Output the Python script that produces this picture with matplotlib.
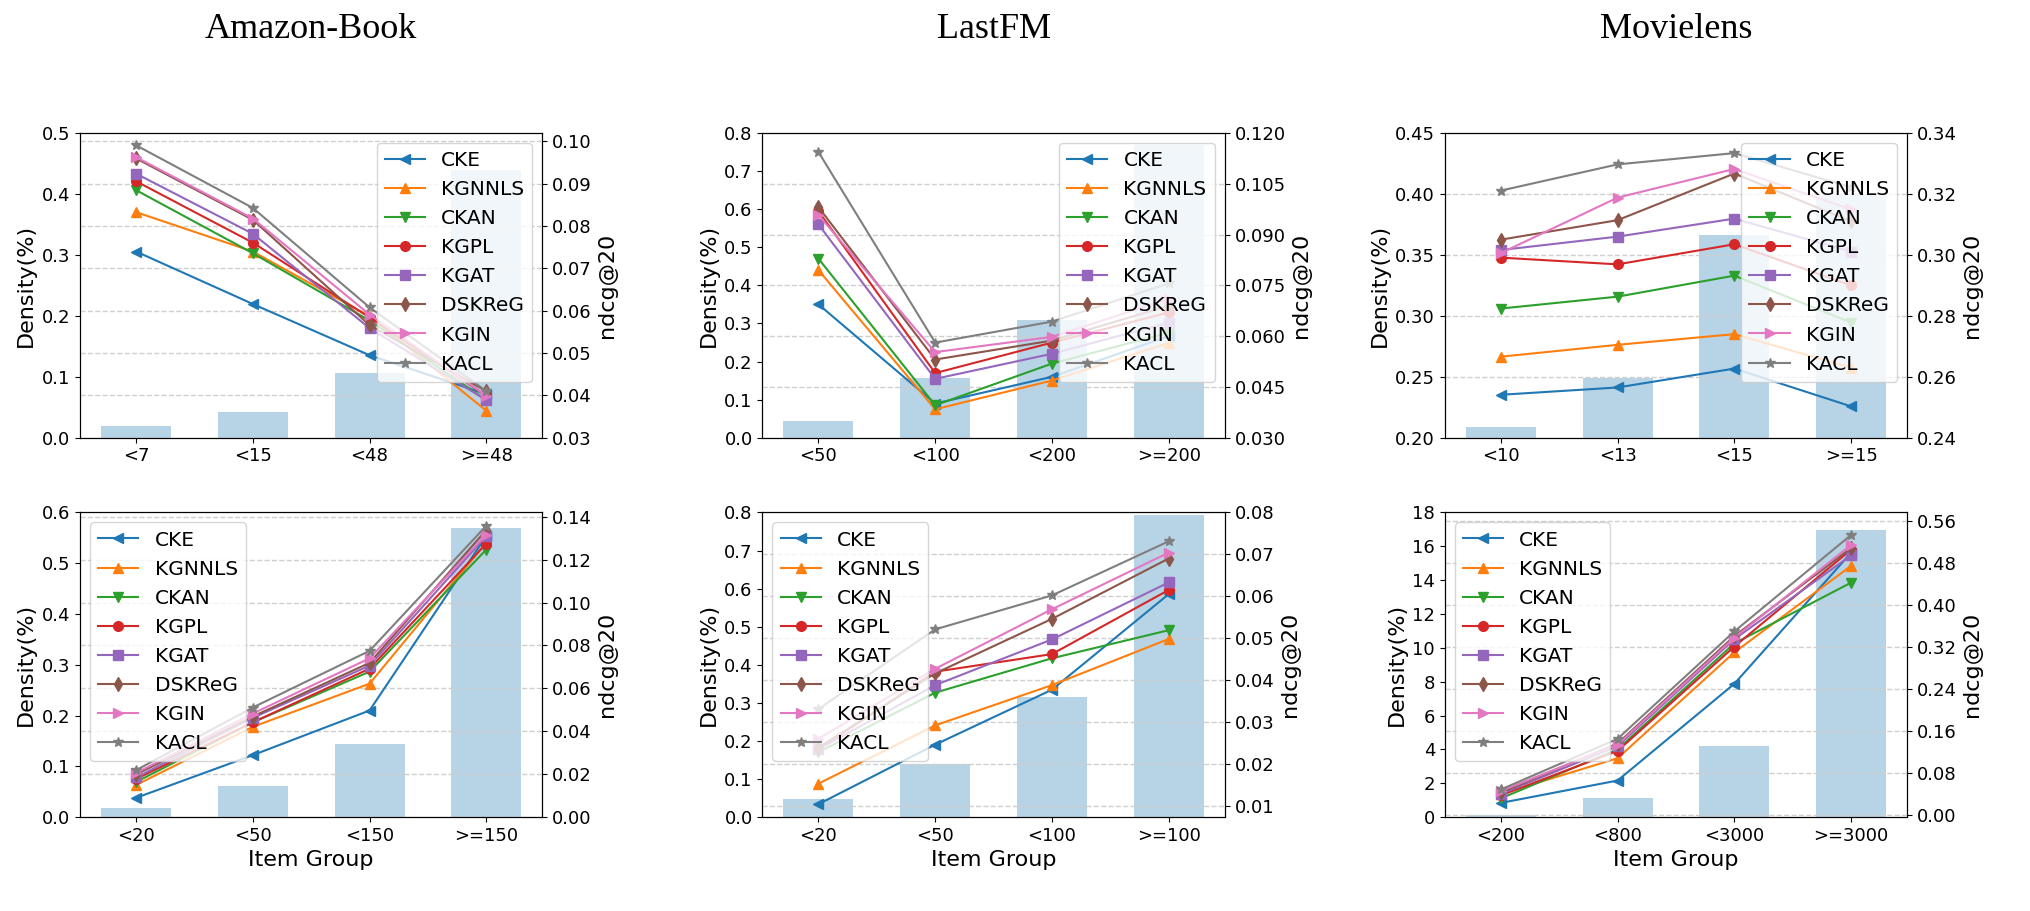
import numpy as np
import matplotlib
matplotlib.use('Agg')
import matplotlib.pyplot as plt
from matplotlib.ticker import FormatStrFormatter

# Data
methods = ['CKE', 'KGNNLS', 'CKAN', 'KGPL', 'KGAT', 'DSKReG', 'KGIN', 'KACL']
markers = ['<', '^', 'v', 'o', 's', 'd', '>', '*']
colors = ['tab:blue', 'tab:orange', 'tab:green', 'tab:red',
          'tab:purple', 'tab:brown', 'tab:pink', 'tab:gray']

datasets = ['Amazon-Book', 'LastFM', 'Movielens']

# top row: user groups
amazon_top_groups = ['<7', '<15', '<48', '>=48']
amazon_top_density = [0.020, 0.042, 0.107, 0.44]
amazon_top_ndcg = [
    [0.0740, 0.0616, 0.0495, 0.0403],
    [0.0833, 0.0740, 0.0587, 0.0364],
    [0.0885, 0.0736, 0.0577, 0.0389],
    [0.0906, 0.0761, 0.0584, 0.0399],
    [0.0924, 0.0782, 0.0559, 0.0389],
    [0.0960, 0.0815, 0.0566, 0.0410],
    [0.0963, 0.0818, 0.0591, 0.0399],
    [0.0991, 0.0843, 0.0608, 0.0410],
]

lastfm_top_groups = ['<50', '<100', '<200', '>=200']
lastfm_top_density = [0.045, 0.158, 0.310, 0.768]
lastfm_top_ndcg = [
    [0.0694, 0.0401, 0.0480, 0.0600],
    [0.0795, 0.0384, 0.0469, 0.0580],
    [0.0829, 0.0396, 0.0519, 0.0610],
    [0.0969, 0.0491, 0.0581, 0.0670],
    [0.0930, 0.0474, 0.0548, 0.0640],
    [0.0981, 0.0531, 0.0587, 0.0690],
    [0.0958, 0.0553, 0.0598, 0.0710],
    [0.1144, 0.0581, 0.0643, 0.0756],
]

movielens_top_groups = ['<10', '<13', '<15', '>=15']
movielens_top_density = [0.209, 0.249, 0.366, 0.400]
movielens_top_ndcg = [
    [0.2541, 0.2565, 0.2627, 0.2503],
    [0.2666, 0.2705, 0.2740, 0.2630],
    [0.2824, 0.2863, 0.2932, 0.2778],
    [0.2991, 0.2969, 0.3035, 0.2900],
    [0.3016, 0.3060, 0.3119, 0.3011],
    [0.3050, 0.3114, 0.3267, 0.3110],
    [0.3006, 0.3188, 0.3282, 0.3149],
    [0.3211, 0.3297, 0.3334, 0.3222],
]

# bottom row: item groups
amazon_bot_groups = ['<20', '<50', '<150', '>=150']
amazon_bot_density = [0.019, 0.062, 0.144, 0.569]
amazon_bot_ndcg = [
    [0.0090, 0.0289, 0.0497, 0.1310],
    [0.0150, 0.0421, 0.0622, 0.1280],
    [0.0164, 0.0442, 0.0678, 0.1247],
    [0.0178, 0.0442, 0.0692, 0.1275],
    [0.0185, 0.0463, 0.0706, 0.1310],
    [0.0199, 0.0469, 0.0719, 0.1338],
    [0.0206, 0.0483, 0.0740, 0.1317],
    [0.0219, 0.0511, 0.0775, 0.1358],
]

lastfm_bot_groups = ['<20', '<50', '<100', '>=100']
lastfm_bot_density = [0.049, 0.139, 0.315, 0.792]
lastfm_bot_ndcg = [
    [0.0104, 0.0246, 0.0377, 0.0605],
    [0.0153, 0.0292, 0.0388, 0.0498],
    [0.0228, 0.0370, 0.0452, 0.0519],
    [0.0235, 0.0420, 0.0462, 0.0615],
    [0.0235, 0.0388, 0.0497, 0.0633],
    [0.0239, 0.0416, 0.0546, 0.0690],
    [0.0260, 0.0427, 0.0569, 0.0704],
    [0.0331, 0.0521, 0.0602, 0.0731],
]

movielens_bot_groups = ['<200', '<800', '<3000', '>=3000']
movielens_bot_density = [0.10, 1.11, 4.22, 16.94]
movielens_bot_ndcg = [
    [0.0227, 0.0654, 0.250, 0.500],
    [0.0398, 0.108, 0.310, 0.475],
    [0.0313, 0.125, 0.327, 0.443],
    [0.0370, 0.122, 0.321, 0.506],
    [0.0398, 0.131, 0.335, 0.495],
    [0.0426, 0.136, 0.341, 0.509],
    [0.0455, 0.134, 0.338, 0.515],
    [0.0483, 0.145, 0.350, 0.534],
]

panels = [
    # groups, density, ndcg, left ylim, left ticks, left fmt, right ylim, right ticks, right fmt, legend loc
    (amazon_top_groups, amazon_top_density, amazon_top_ndcg, (0, 0.5), np.arange(0, 0.51, 0.1), '%.1f',
     (0.03, 0.102), np.arange(0.03, 0.1001, 0.01), '%.2f', 'upper right'),
    (lastfm_top_groups, lastfm_top_density, lastfm_top_ndcg, (0, 0.8), np.arange(0, 0.81, 0.1), '%.1f',
     (0.03, 0.12), np.arange(0.03, 0.1201, 0.015), '%.3f', 'upper right'),
    (movielens_top_groups, movielens_top_density, movielens_top_ndcg, (0.2, 0.45), np.arange(0.2, 0.451, 0.05), '%.2f',
     (0.24, 0.34), np.arange(0.24, 0.3401, 0.02), '%.2f', 'upper right'),
    (amazon_bot_groups, amazon_bot_density, amazon_bot_ndcg, (0, 0.6), np.arange(0, 0.61, 0.1), '%.1f',
     (0.0, 0.142), np.arange(0, 0.1401, 0.02), '%.2f', 'upper left'),
    (lastfm_bot_groups, lastfm_bot_density, lastfm_bot_ndcg, (0, 0.8), np.arange(0, 0.81, 0.1), '%.1f',
     (0.0073, 0.08), np.arange(0.01, 0.0801, 0.01), '%.2f', 'upper left'),
    (movielens_bot_groups, movielens_bot_density, movielens_bot_ndcg, (0, 18), np.arange(0, 18.1, 2), '%d',
     (-0.0045, 0.577), np.arange(0, 0.561, 0.08), '%.2f', 'upper left'),
]

fig, axes = plt.subplots(2, 3, figsize=(20.31, 9.11), dpi=100)
fig.subplots_adjust(left=0.0394, right=0.939, top=0.854, bottom=0.103,
                    wspace=0.476, hspace=0.245)

for k, (ax, p) in enumerate(zip(axes.flat, panels)):
    groups, dens, ndcg, ylim, yticks, yfmt, ylim2, yticks2, yfmt2, loc = p
    x = np.arange(len(groups))
    ax.bar(x, dens, width=0.6, color='tab:blue', alpha=0.32)
    ax.set_ylim(*ylim)
    ax.set_yticks(yticks)
    ax.yaxis.set_major_formatter(FormatStrFormatter(yfmt))
    ax.set_xticks(x)
    ax.set_xticklabels(groups)
    ax.tick_params(labelsize=13)
    ax.set_ylabel('Density(%)', fontsize=16)
    if k >= 3:
        ax.set_xlabel('Item Group', fontsize=16)

    ax2 = ax.twinx()
    for vals, name, m, c in zip(ndcg, methods, markers, colors):
        ax2.plot(x, vals, marker=m, color=c, label=name, linewidth=1.5, markersize=7)
    ax2.set_ylim(*ylim2)
    ax2.set_yticks(yticks2)
    ax2.yaxis.set_major_formatter(FormatStrFormatter(yfmt2))
    ax2.tick_params(labelsize=13)
    ax2.set_ylabel('ndcg@20', fontsize=16)
    ax2.grid(axis='y', linestyle='--', color='#cfcfcf', linewidth=1)
    ax2.legend(loc=loc, fontsize=14.5)

for j, name in enumerate(datasets):
    pos = axes[0, j].get_position()
    fig.text((pos.x0 + pos.x1) / 2, 1 - 30 / 911, name, ha='center', va='center',
             fontsize=26, family='Liberation Serif')

fig.savefig('out.png', dpi=100)
